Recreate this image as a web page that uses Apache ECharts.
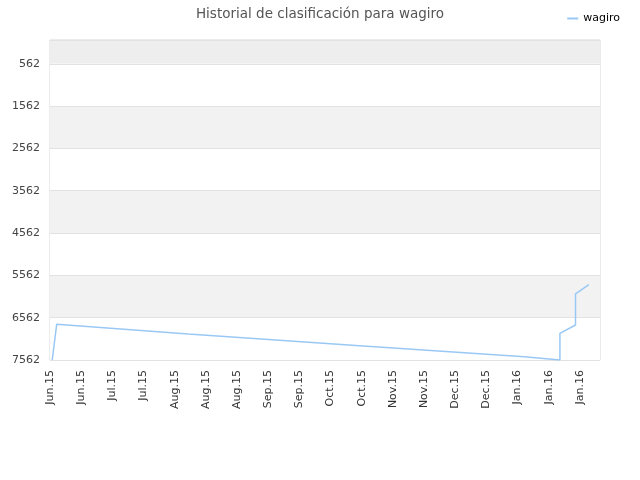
<!DOCTYPE html>
<html>
<head>
<meta charset="utf-8">
<script src="https://cdn.jsdelivr.net/npm/echarts@6/dist/echarts.min.js"></script>
<style>
  html, body { margin: 0; padding: 0; background: #fff; }
  #chart { width: 640px; height: 480px; }
</style>
</head>
<body>
<div id="chart"></div>
<script>
// day 0 of the x axis, ticks every 14 days
var startDate = Date.UTC(2015, 5, 7);
var dayCount = 247;
var monthNames = ['Jan', 'Feb', 'Mar', 'Apr', 'May', 'Jun', 'Jul', 'Aug', 'Sep', 'Oct', 'Nov', 'Dec'];

// rank history
var rankDates = ['2015-06-08', '2015-06-10', '2015-08-08', '2015-10-24', '2016-01-06',
                 '2016-01-22', '2016-01-22', '2016-01-29', '2016-01-29', '2016-02-04'];
var rankValues = [7562, 6718, 6948, 7224, 7484, 7562, 6931, 6735, 6001, 5782];

var yLabels = [562, 1562, 2562, 3562, 4562, 5562, 6562, 7562];

function dayIndex(s) {
    var p = s.split('-');
    return (Date.UTC(+p[0], +p[1] - 1, +p[2]) - startDate) / 86400000;
}

var seriesData = rankDates.map(function (d, i) {
    return [dayIndex(d), rankValues[i]];
});

var chart = echarts.init(document.getElementById('chart'));
chart.setOption({
    backgroundColor: '#fff',
    animation: false,
    textStyle: { fontFamily: 'DejaVu Sans' },
    title: {
        text: 'Historial de clasificación para wagiro',
        left: 'center',
        top: 2,
        textStyle: { fontSize: 13.5, fontWeight: 'normal', color: '#555', fontFamily: 'DejaVu Sans' }
    },
    legend: {
        right: 15,
        top: 8,
        icon: 'rect',
        itemWidth: 11,
        itemHeight: 2,
        itemGap: 6,
        textStyle: { fontSize: 11, color: '#000', fontFamily: 'DejaVu Sans' },
        data: ['wagiro']
    },
    grid: {
        left: 50, right: 40, top: 40, bottom: 120,
        show: true,
        borderColor: '#d8d8d8',
        borderWidth: 1,
        backgroundColor: 'transparent'
    },
    xAxis: {
        type: 'value',
        min: 0,
        max: dayCount,
        interval: 14,
        axisLine: { show: false },
        axisTick: { show: false },
        splitLine: { show: false },
        axisLabel: {
            rotate: 90,
            margin: 10,
            fontSize: 11,
            color: '#333',
            showMaxLabel: false,
            formatter: function (v) {
                var d = new Date(startDate + v * 86400000);
                return monthNames[d.getUTCMonth()] + '.' + String(d.getUTCFullYear()).slice(2);
            }
        }
    },
    yAxis: {
        type: 'value',
        inverse: true,
        min: 0,
        max: 7562,
        axisLine: { show: false },
        axisTick: { show: false, customValues: [0].concat(yLabels) },
        axisLabel: {
            customValues: yLabels,
            fontSize: 11,
            color: '#444',
            margin: 10,
            formatter: function (v) { return String(v); }
        },
        splitLine: { show: true, lineStyle: { color: '#e2e2e2', width: 1 } },
        splitArea: {
            show: true,
            areaStyle: {
                color: ['#eeeeee', '#ffffff', '#f2f2f2', '#ffffff', '#f2f2f2', '#ffffff', '#f2f2f2', '#ffffff']
            }
        }
    },
    series: [{
        name: 'wagiro',
        type: 'line',
        symbol: 'none',
        data: seriesData,
        lineStyle: { color: '#9ac8f5', width: 1.5 },
        itemStyle: { color: '#9ac8f5' }
    }]
});
</script>
</body>
</html>
